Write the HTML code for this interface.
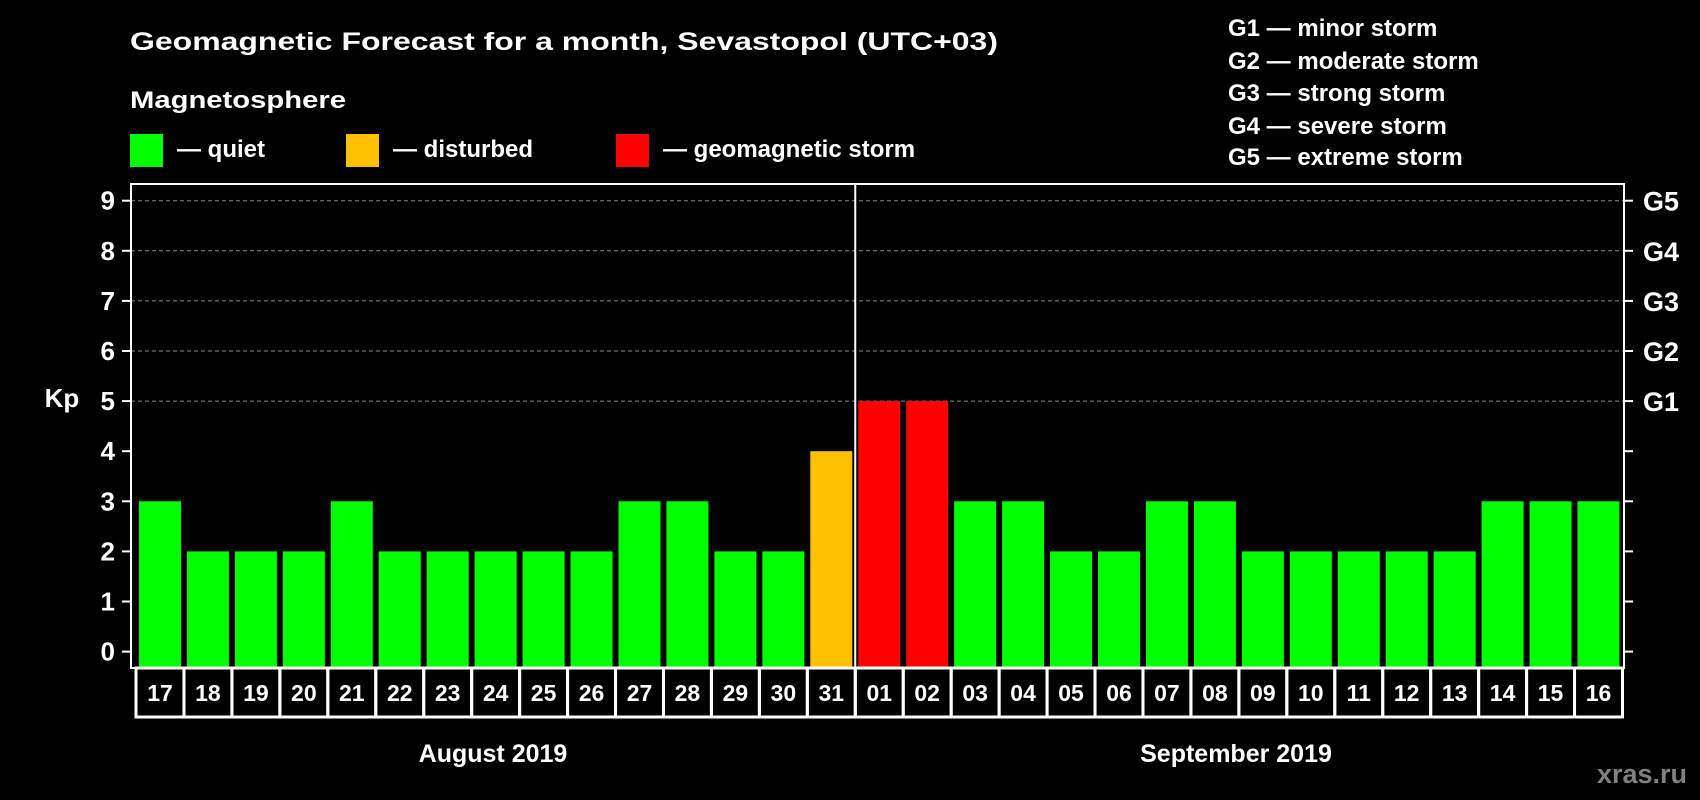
<!DOCTYPE html>
<html><head><meta charset="utf-8"><style>
html,body{margin:0;padding:0;background:#000;}
svg{display:block;font-family:"Liberation Sans",Arial,sans-serif;font-weight:bold;}
</style></head><body>
<svg id="chart" width="1700" height="800" viewBox="0 0 1700 800">
<rect x="0" y="0" width="1700" height="800" fill="#000"/>
<text x="130" y="50" fill="#fff" font-size="25" textLength="868" lengthAdjust="spacingAndGlyphs">Geomagnetic Forecast for a month, Sevastopol (UTC+03)</text>
<text x="130" y="108" fill="#fff" font-size="24" textLength="216" lengthAdjust="spacingAndGlyphs">Magnetosphere</text>
<g><rect x="130" y="134" width="33" height="33" fill="#00ff00"/><text x="177" y="157" fill="#fff" font-size="24">— quiet</text></g>
<g><rect x="346" y="134" width="33" height="33" fill="#ffc000"/><text x="393" y="157" fill="#fff" font-size="24">— disturbed</text></g>
<g><rect x="616" y="134" width="33" height="33" fill="#ff0000"/><text x="663" y="157" fill="#fff" font-size="24">— geomagnetic storm</text></g>
<g fill="#fff" font-size="24">
<text x="1228" y="36">G1 — minor storm</text>
<text x="1228" y="69">G2 — moderate storm</text>
<text x="1228" y="101">G3 — strong storm</text>
<text x="1228" y="134">G4 — severe storm</text>
<text x="1228" y="165">G5 — extreme storm</text>
</g>
<text x="62" y="407" fill="#fff" font-size="26" text-anchor="middle">Kp</text>
<g id="plot"></g>
<text x="493" y="762" fill="#fff" font-size="25" text-anchor="middle">August 2019</text>
<text x="1236" y="762" fill="#fff" font-size="25" text-anchor="middle">September 2019</text>
<text x="1687" y="783" fill="#808080" font-size="27" text-anchor="end">xras.ru</text>
</svg>
<script>
const days = ["17","18","19","20","21","22","23","24","25","26","27","28","29","30","31","01","02","03","04","05","06","07","08","09","10","11","12","13","14","15","16"];
const kpValues = [3,2,2,2,3,2,2,2,2,2,3,3,2,2,4,5,5,3,3,2,2,3,3,2,2,2,2,2,3,3,3];
const yTicks = [0,1,2,3,4,5,6,7,8,9];
const gLabels = ["G1","G2","G3","G4","G5"];
const gLevels = [5,6,7,8,9];
const monthBreak = 15;

const NS = "http://www.w3.org/2000/svg";
const plot = document.getElementById("plot");
const L = 131, R = 1624, T = 184, B = 668;
const Y0 = 651.6, UNIT = 50.1;
function y(v){ return Y0 - v*UNIT; }
function x(i){ return 139 + i*47.95; }
const BW = 42;
function mk(tag, attrs){ const e = document.createElementNS(NS, tag); for (const k in attrs) e.setAttribute(k, attrs[k]); plot.appendChild(e); return e; }
function color(v){ return v>=5 ? "#ff0000" : (v>=4 ? "#ffc000" : "#00ff00"); }

yTicks.forEach(t => {
  if (t >= 5) {
    const g = mk("line", {x1:L, x2:R, y1:y(t), y2:y(t), stroke:"#888", "stroke-width":1, "stroke-dasharray":"4,3"});
    
    
  }
  const tk = mk("line", {x1:L-9, x2:L, y1:y(t), y2:y(t), stroke:"#fff", "stroke-width":2});
  
  
  const tr = mk("line", {x1:R, x2:R+9, y1:y(t), y2:y(t), stroke:"#fff", "stroke-width":2});
  
  
  const lb = mk("text", {x:L-16, y:y(t)+9, fill:"#fff", "font-size":26, "text-anchor":"end"});
  lb.textContent = t;
  
  
});
gLabels.forEach((g, i) => {
  const t = mk("text", {x:R+19, y:y(gLevels[i])+10, fill:"#fff", "font-size":27});
  t.textContent = g;
  
  
});
kpValues.forEach((v, i) => {
  const b = mk("rect", {x:x(i), y:y(v), width:BW, height:B-y(v), fill:color(v)});
  
  
  const left = x(i) - 3, right = x(i) + BW + 3;
  const c = mk("rect", {x:left, y:B, width:right-left, height:49, fill:"none", stroke:"#fff", "stroke-width":3});
  
  
  const t = mk("text", {x:x(i)+BW/2, y:B+33, fill:"#fff", "font-size":23, "text-anchor":"middle"});
  t.textContent = days[i];
  
  
});
const sep = mk("line", {x1:x(monthBreak)-3, x2:x(monthBreak)-3, y1:T, y2:B, stroke:"#fff", "stroke-width":2});


const frame = mk("rect", {x:L, y:T, width:R-L, height:B-T, fill:"none", stroke:"#fff", "stroke-width":2});


</script>
</body></html>
